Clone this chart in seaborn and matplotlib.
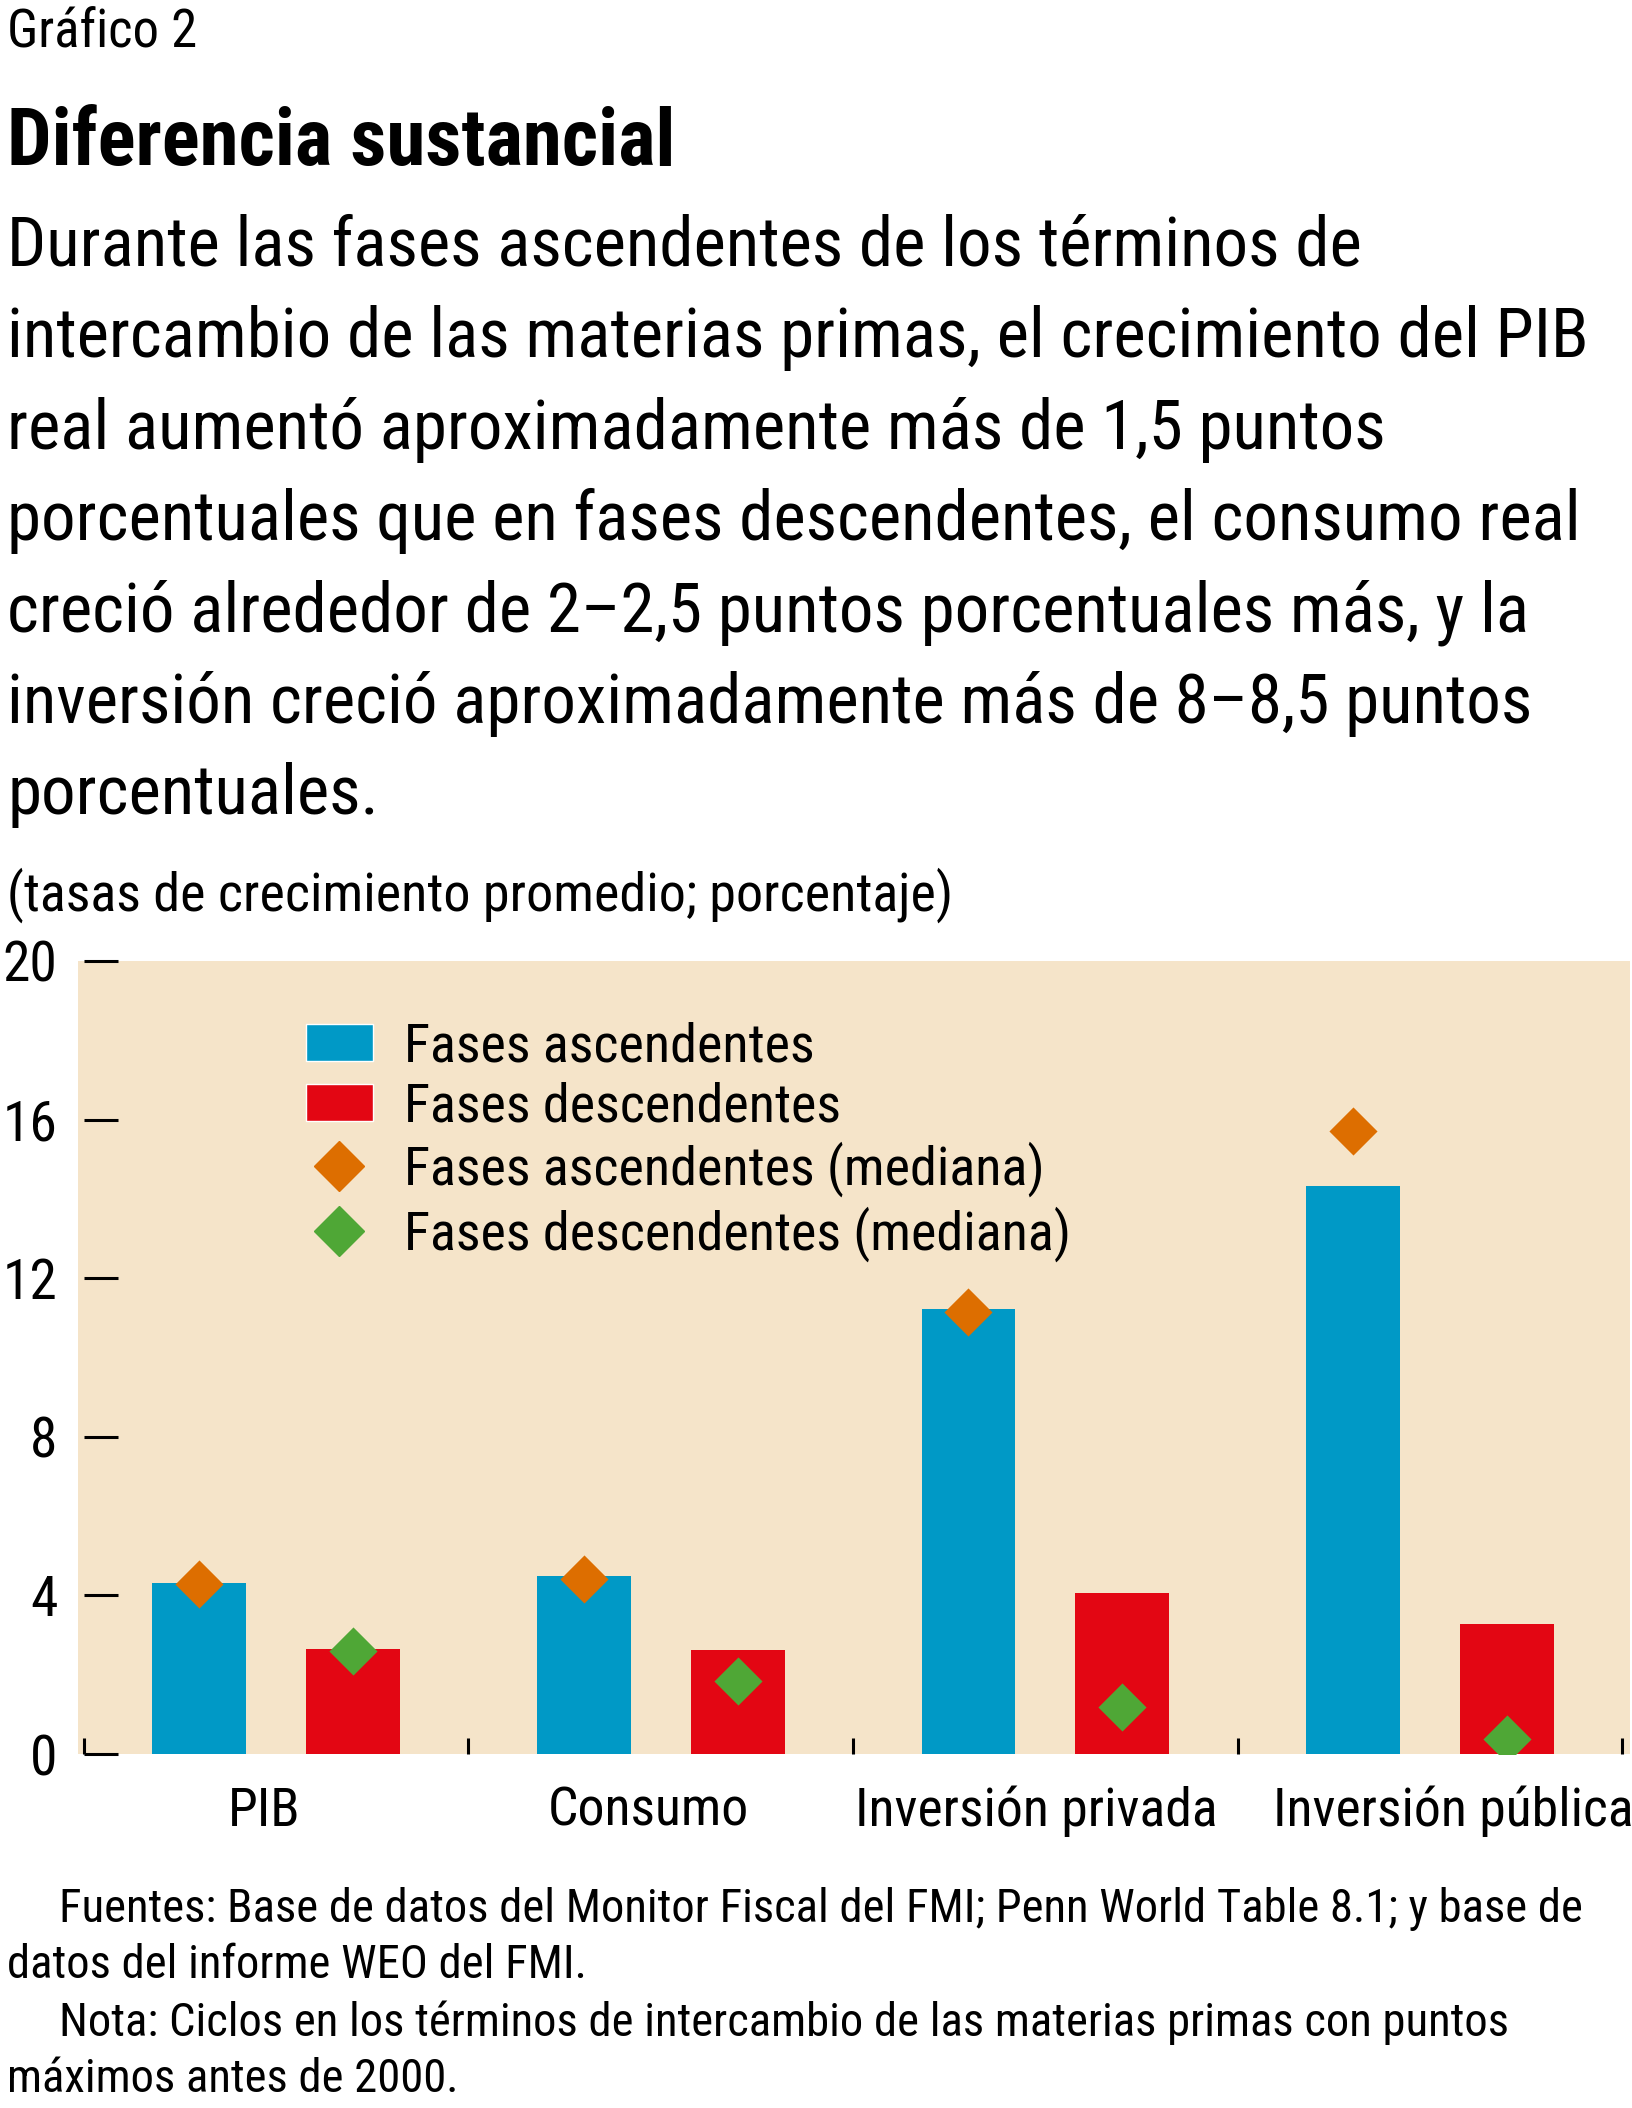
import pandas as pd
import matplotlib.pyplot as plt
import matplotlib.transforms as mtransforms
import seaborn as sns
from matplotlib.patches import Patch
from matplotlib.lines import Line2D

# ----------------- Data -----------------
categories = ['PIB', 'Consumo', 'Inversión privada', 'Inversión pública']
up_mean = [4.32, 4.49, 11.22, 14.32]
down_mean = [2.65, 2.62, 4.07, 3.29]
up_median = [4.30, 4.42, 11.15, 15.70]
down_median = [2.61, 1.84, 1.18, 0.38]

bar_labels = ['Fases ascendentes', 'Fases descendentes']
median_labels = ['Fases ascendentes (mediana)', 'Fases descendentes (mediana)']
y_ticks = [0, 4, 8, 12, 16, 20]

BLUE, RED = '#0099C6', '#E30613'
ORANGE, GREEN = '#DD6E00', '#4FA736'
BEIGE = '#F5E4C9'

bars = pd.DataFrame({
    'cat': categories * 2,
    'val': up_mean + down_mean,
    'fase': [bar_labels[0]] * 4 + [bar_labels[1]] * 4,
})
medians = pd.DataFrame({
    'cat': categories * 2,
    'val': up_median + down_median,
    'fase': [median_labels[0]] * 4 + [median_labels[1]] * 4,
})

# ----------------- Figure -----------------
sns.set_style('white')
plt.rcParams['font.family'] = ['Roboto Condensed', 'Archivo Narrow', 'DejaVu Sans']
plt.rcParams.update({'text.color': 'black', 'xtick.color': 'black',
                     'ytick.color': 'black', 'axes.labelcolor': 'black'})

W, H = 1633, 2108
fig = plt.figure(figsize=(W / 100, H / 100), dpi=100)

def fy(px):
    return 1 - px / H

ax = fig.add_axes([78 / W, fy(1754), (1630 - 78) / W, (1754 - 961) / H])
ax.set_facecolor(BEIGE)

sns.barplot(data=bars, x='cat', y='val', hue='fase', order=categories,
            palette=[BLUE, RED], saturation=1, width=0.8, gap=0.39,
            linewidth=0, legend=False, ax=ax)
sns.stripplot(data=medians, x='cat', y='val', hue='fase', order=categories,
              palette=[ORANGE, GREEN], dodge=True, jitter=False, marker='D',
              size=24.5, linewidth=0, legend=False, zorder=4, ax=ax)

ax.set_xlim(-0.515, 3.52)
ax.set_ylim(0, 20)
ax.set_yticks(y_ticks)
ax.set_xlabel('')
ax.set_ylabel('')

for s in ['top', 'right', 'bottom']:
    ax.spines[s].set_visible(False)
ax.spines['left'].set_position(('data', -0.5))
ax.spines['left'].set_color('none')

ax.tick_params(axis='y', left=True, direction='in', length=24.5, width=2.2,
               pad=19, labelsize=40)
ax.set_xticks([-0.5, 0.5, 1.5, 2.5, 3.5], minor=True)
ax.tick_params(axis='x', which='minor', bottom=True, direction='in',
               length=11.5, width=2.2)
ax.tick_params(axis='x', which='major', bottom=True, length=0, pad=23,
               labelsize=38.7)

# category labels sit a little off-centre in the original
label_shift_px = [-12, -12, -9, 23]
for lab, dx in zip(ax.get_xticklabels(), label_shift_px):
    off = mtransforms.ScaledTranslation(dx / 100, 0, fig.dpi_scale_trans)
    lab.set_transform(lab.get_transform() + off)

handles = [
    Patch(facecolor=BLUE, label=bar_labels[0]),
    Patch(facecolor=RED, label=bar_labels[1]),
    Line2D([], [], marker='D', linestyle='', markersize=25, color=ORANGE,
           label=median_labels[0]),
    Line2D([], [], marker='D', linestyle='', markersize=25, color=GREEN,
           label=median_labels[1]),
]
ax.legend(handles=handles, loc='upper left', bbox_to_anchor=(0.147, 0.924),
          frameon=False, borderpad=0, borderaxespad=0, fontsize=39,
          handlelength=1.23, handleheight=0.67, handletextpad=0.57,
          labelspacing=0.17)

# ----------------- Texts -----------------
fig.text(7 / W, fy(48), 'Gráfico 2', fontsize=38, va='baseline')
fig.text(7 / W, fy(165), 'Diferencia sustancial', fontsize=57,
         fontweight='bold', va='baseline')

body = [
    'Durante las fases ascendentes de los términos de',
    'intercambio de las materias primas, el crecimiento del PIB',
    'real aumentó aproximadamente más de 1,5 puntos',
    'porcentuales que en fases descendentes, el consumo real',
    'creció alrededor de 2–2,5 puntos porcentuales más, y la',
    'inversión creció aproximadamente más de 8–8,5 puntos',
    'porcentuales.',
]
for i, line in enumerate(body):
    fig.text(7 / W, fy(266 + i * 91.4), line, fontsize=49.6, va='baseline')

fig.text(7 / W, fy(911), '(tasas de crecimiento promedio; porcentaje)',
         fontsize=39, va='baseline')

notes = [
    (59, 1922, 'Fuentes: Base de datos del Monitor Fiscal del FMI; Penn World Table 8.1; y base de'),
    (7, 1978, 'datos del informe WEO del FMI.'),
    (59, 2036, 'Nota: Ciclos en los términos de intercambio de las materias primas con puntos'),
    (7, 2092, 'máximos antes de 2000.'),
]
for x, y, t in notes:
    fig.text(x / W, fy(y), t, fontsize=33.6, va='baseline')

fig.savefig('out.png', dpi=100, facecolor='white')
